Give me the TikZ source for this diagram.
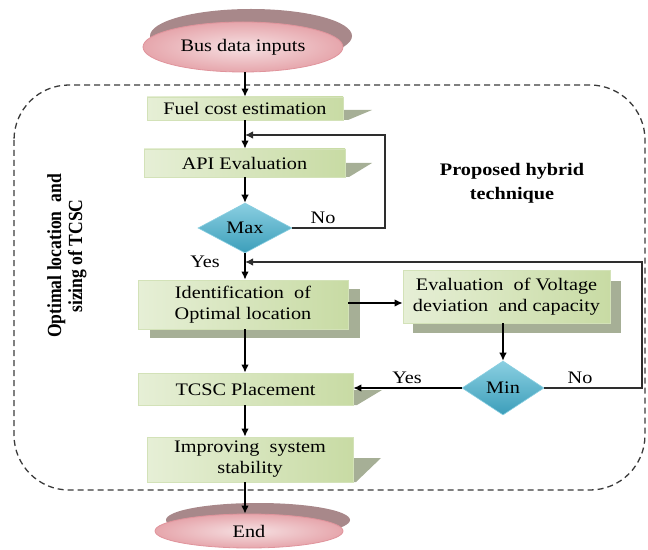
\documentclass[tikz,border=0pt]{standalone}
\usepackage{fontspec}
\setmainfont{Liberation Serif}[FakeStretch=1.15]
\newfontfamily\sidefont{Liberation Serif}[FakeStretch=0.88]
\usetikzlibrary{shapes.geometric,arrows.meta}
\definecolor{boxlight}{HTML}{E6EFD6}
\definecolor{boxdark}{HTML}{C8DBA4}
\definecolor{boxedge}{HTML}{D3E2B8}
\definecolor{boxshadow}{HTML}{A6AF96}
\definecolor{diatop}{HTML}{8ACFE1}
\definecolor{diabot}{HTML}{3C9EBA}
\definecolor{pinkin}{HTML}{F6E0E2}
\definecolor{pinkout}{HTML}{E6A6AC}
\definecolor{pinkedge}{HTML}{E0949C}
\definecolor{pinkshadow}{HTML}{A8888A}
\definecolor{linegrey}{HTML}{2E2E2E}
\definecolor{dashgrey}{HTML}{3A3A3A}

\begin{document}
\begin{tikzpicture}[x=1bp,y=-1bp,
  every node/.style={font=\fontsize{17.6bp}{21bp}\selectfont, text=black, inner sep=0pt},
  procbox/.style={rectangle, draw=boxedge, line width=0.8bp, left color=boxlight, right color=boxdark, align=center},
  decision/.style={diamond, draw=diatop, line width=0.6bp, top color=diatop, bottom color=diabot},
  terminal/.style={ellipse, draw=pinkedge, line width=0.8bp, inner color=pinkin, outer color=pinkout},
  flow/.style={-{Latex[length=8bp,width=7.5bp]}, line width=1.2bp, draw=black},
  loopline/.style={-{Latex[length=8bp,width=7.5bp]}, line width=1.2bp, draw=linegrey},
  boldtext/.style={align=center, font=\bfseries\fontsize{17.6bp}{24bp}\selectfont},
]
\useasboundingbox (0,0) rectangle (648,550);

% enclosing dashed region
\draw[dashgrey, line width=1.3bp, dash pattern=on 6bp off 4bp, rounded corners=55bp]
  (14,85) rectangle (645,490);

% shadows behind the shapes
\fill[pinkshadow] (251,36) ellipse [x radius=101, y radius=27];
\fill[pinkshadow] (258,520) ellipse [x radius=92, y radius=17];
\fill[boxshadow] (150,289) rectangle (360,338);
\fill[boxshadow] (413,281) rectangle (621,333);
\fill[boxshadow] (343,110) -- (372,110) -- (348,120) -- (343,120) -- cycle;
\fill[boxshadow] (345,163) -- (372,163) -- (349,177) -- (345,177) -- cycle;
\fill[boxshadow] (353,390) -- (382,390) -- (357,405) -- (353,405) -- cycle;
\fill[boxshadow] (353,458) -- (381,458) -- (356,482) -- (353,482) -- cycle;

% flowchart blocks
\node[terminal, minimum width=200bp, minimum height=50bp] (bus) at (243,47) {Bus data inputs};
\node[procbox, minimum width=196bp, minimum height=23bp] (fuel) at (245,108.5) {Fuel cost estimation};
\node[procbox, minimum width=201bp, minimum height=28bp] (api) at (244.5,163) {API Evaluation};
\node[decision, minimum width=94bp, minimum height=50bp] (max) at (245,228) {Max};
\node[procbox, minimum width=210bp, minimum height=49bp] (ident) at (243,304.5) {Identification\ \ of\\Optimal location};
\node[procbox, minimum width=207bp, minimum height=53bp] (eval) at (506.5,296.5) {Evaluation\ \ of Voltage\\deviation\ \ and capacity};
\node[decision, minimum width=82bp, minimum height=54bp] (min) at (503,388) {Min};
\node[procbox, minimum width=215bp, minimum height=32bp] (tcsc) at (245.5,389) {TCSC Placement};
\node[procbox, minimum width=206bp, minimum height=45bp] (impr) at (250,459.5) {Improving\ \ system\\stability};
\node[terminal, minimum width=188bp, minimum height=34bp] (end) at (249,531) {End};

% main vertical line of the flow
\coordinate (spine) at (245,0);
\coordinate (j1) at (385,135);
\coordinate (j2) at (642,262);

\draw[flow] (spine |- bus.south) -- (spine |- fuel.north);
\draw[flow] (spine |- fuel.south) -- (spine |- api.north);
\draw[flow] (spine |- api.south) -- (max.north);
\draw[flow] (max.south) -- (spine |- ident.north);
\draw[flow] (spine |- ident.south) -- (spine |- tcsc.north);
\draw[flow] (spine |- tcsc.south) -- (spine |- impr.north);
\draw[flow] (spine |- impr.south) -- (spine |- end.north);
\draw[flow] (ident.east |- 0,303) -- (eval.west |- 0,303);
\draw[flow] (min.north |- eval.south) -- (min.north);
\draw[flow] (min.west) -- (min.west -| tcsc.east);

% feedback loops
\draw[loopline] (max.east) -| (j1) -- (spine |- j1);
\draw[loopline] (min.east) -| (j2) -- (spine |- j2);

% branch labels
\node (no1) at (323,218) {No};
\node (yes1) at (205,262) {Yes};
\node (yes2) at (407,378) {Yes};
\node (no2) at (580,378) {No};

% captions
\node[boldtext] (title) at (512,183) {Proposed hybrid\\technique};
\node[rotate=90, align=center, font=\sidefont\bfseries\fontsize{20bp}{21bp}\selectfont] (side) at (67,256)
  {Optimal location\ \ and\\sizing of TCSC};
\end{tikzpicture}
\end{document}
